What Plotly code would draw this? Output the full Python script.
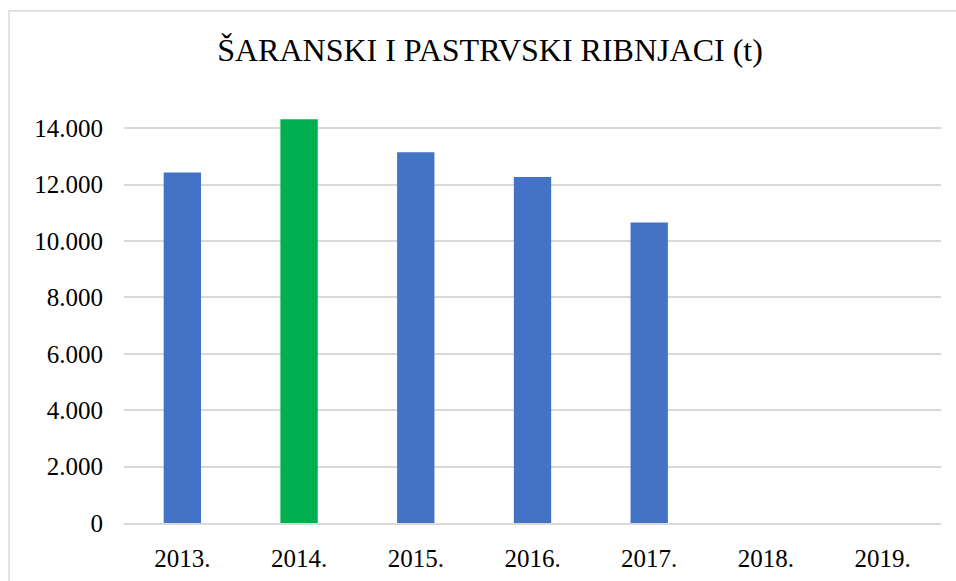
import plotly.graph_objects as go

godine = ["2013.", "2014.", "2015.", "2016.", "2017.", "2018.", "2019."]
proizvodnja = [12430, 14320, 13150, 12270, 10660, None, None]
boje = ["#4472C4", "#00B050", "#4472C4", "#4472C4", "#4472C4", "#4472C4", "#4472C4"]
y_tickovi = [0, 2000, 4000, 6000, 8000, 10000, 12000, 14000]
y_oznake = ["0", "2.000", "4.000", "6.000", "8.000", "10.000", "12.000", "14.000"]

font = "Liberation Serif"

fig = go.Figure()
fig.add_trace(go.Bar(x=godine, y=proizvodnja, marker=dict(color=boje, line=dict(width=0)),
                     width=0.32))

# plot area in pixels: x 124..941, y 116.7..523.5
W, H = 956, 581
L, R, T, B = 124, 15, 117, 57.5
pw = W - L - R
ph = H - T - B

fig.update_layout(
    width=W, height=H,
    margin=dict(l=L, r=R, t=T, b=B, autoexpand=False),
    paper_bgcolor="white", plot_bgcolor="white",
    showlegend=False,
    font=dict(family=font, size=25, color="#000000"),
    title=dict(text="ŠARANSKI I PASTRVSKI RIBNJACI (t)", x=490 / W, xanchor="center",
               y=1 - 50 / H, yanchor="middle", font=dict(family=font, size=32, color="#000000")),
    xaxis=dict(showgrid=False, showline=True, linecolor="#d9d9d9", linewidth=2,
               ticks="", ticklabelstandoff=12, fixedrange=True, automargin=False),
    yaxis=dict(range=[0, 14400], tickvals=y_tickovi, ticktext=y_oznake,
               showgrid=True, gridcolor="#d9d9d9", gridwidth=2, zeroline=False,
               ticks="", ticklabelstandoff=20, fixedrange=True, automargin=False),
    shapes=[dict(type="rect", xref="paper", yref="paper",
                 x0=(9 - L) / pw, x1=(962 - L) / pw,
                 y0=(H - B - 590) / ph, y1=(H - B - 10.5) / ph,
                 line=dict(color="#d9d9d9", width=1.5), fillcolor="rgba(0,0,0,0)", layer="below")],
)

fig.write_html("out.html", config={"displayModeBar": False},
               post_script="document.body.style.margin='0';")
